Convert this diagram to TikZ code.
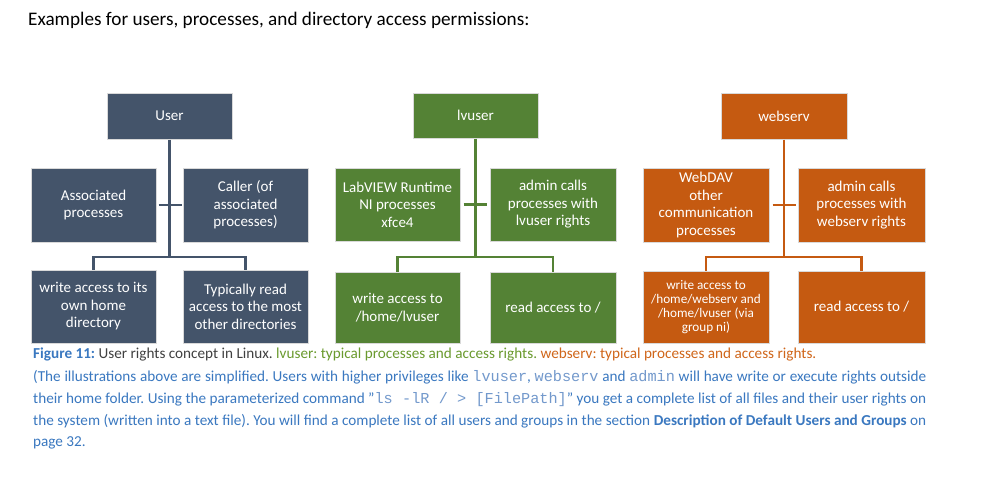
\documentclass[tikz,border=0pt]{standalone}
\usepackage{fontspec}
\setmainfont{Carlito}
\newfontfamily\monof{Liberation Mono}
\definecolor{ublue}{HTML}{44546A}
\definecolor{ugreen}{HTML}{548235}
\definecolor{uorange}{HTML}{C55A11}
\definecolor{cblue}{HTML}{3A78C0}
\definecolor{cmono}{HTML}{7399CC}
\definecolor{cgrey}{HTML}{404040}
\definecolor{cgreen}{HTML}{6A9A2E}
\definecolor{corange}{HTML}{D0661A}
\definecolor{bord}{HTML}{D9D9D9}
\tikzset{
  ubox/.style={rectangle, draw=bord, line width=1pt, text=white, align=center,
    inner sep=0pt, minimum width=125pt, font=\fontsize{15}{17.5}\selectfont},
  conn/.style={line width=2.4pt},
  captxt/.style={anchor=base west, inner sep=0pt, font=\fontsize{15.2}{18}\selectfont, text=cblue}
}
\begin{document}
\frenchspacing
\begin{tikzpicture}[x=1pt,y=-1pt]
\useasboundingbox[fill=white] (0,0) rectangle (998,503);
\node[anchor=base west, inner sep=0pt, font=\fontsize{19.2}{22}\selectfont] (title) at (28,26) {Examples for users, processes, and directory access permissions:};

% User
\node[ubox, fill=ublue, minimum height=46pt] (user) at (169.5,116) {User};
\node[ubox, fill=ublue, minimum height=74pt] (assoc) at (93.5,205) {Associated\\processes};
\node[ubox, fill=ublue, minimum height=74pt] (caller) at (245.5,205) {Caller (of\\associated\\processes)};
\node[ubox, fill=ublue, minimum height=73pt] (uwrite) at (93.5,306.5) {write access to its\\own home\\directory};
\node[ubox, fill=ublue, minimum height=73pt] (uread) at (245.5,306.5) {Typically read\\access to the most\\other directories};
\coordinate (uj) at (169.5,257);
\draw[conn, ublue] (user.south) -- (uj);
\draw[conn, ublue] (uwrite.north) |- (uj) -| (uread.north);
\draw[conn, ublue] ([xshift=2pt]assoc.east) -- ([xshift=-1pt]caller.west);

% lvuser
\node[ubox, fill=ugreen, minimum height=45pt] (lv) at (475.5,115.5) {lvuser};
\node[ubox, fill=ugreen, minimum height=73pt] (lvproc) at (397.5,204.5) {LabVIEW Runtime\\NI processes\\xfce4};
\node[ubox, fill=ugreen, minimum height=73pt, minimum width=126pt] (lvadmin) at (553,204.5) {admin calls\\processes with\\lvuser rights};
\node[ubox, fill=ugreen, minimum height=71pt] (lvwrite) at (397.5,307.5) {write access to\\/home/lvuser};
\node[ubox, fill=ugreen, minimum height=71pt, minimum width=126pt] (lvread) at (553,307.5) {read access to /};
\coordinate (lj) at (475.5,257);
\draw[conn, ugreen] (lv.south) -- (lj);
\draw[conn, ugreen] (lvwrite.north) |- (lj) -| (lvread.north);
\draw[conn, ugreen] ([xshift=3pt]lvproc.east) -- ([xshift=-3pt]lvadmin.west);

% webserv
\node[ubox, fill=uorange, minimum height=46pt, minimum width=126pt] (ws) at (784,116) {webserv};
\node[ubox, fill=uorange, minimum height=74pt, minimum width=126pt] (wsproc) at (706,205) {WebDAV\\other\\communication\\processes};
\node[ubox, fill=uorange, minimum height=74pt, minimum width=127pt] (wsadmin) at (861.5,205) {admin calls\\processes with\\webserv rights};
\node[ubox, fill=uorange, minimum height=72pt, minimum width=126pt, font=\fontsize{13.2}{14.2}\selectfont] (wswrite) at (706,307) {write access to\\/home/webserv and\\/home/lvuser (via\\group ni)};
\node[ubox, fill=uorange, minimum height=72pt, minimum width=127pt] (wsread) at (861.5,307) {read access to /};
\coordinate (wj) at (784,257);
\draw[conn, uorange] (ws.south) -- (wj);
\draw[conn, uorange] (wswrite.north) |- (wj) -| (wsread.north);
\draw[conn, uorange] ([xshift=3pt]wsproc.east) -- ([xshift=-2pt]wsadmin.west);

% caption
\node[captxt] (cap1) at (33,358) {\textbf{Figure 11:} \textcolor{cgrey}{User rights concept in Linux.} \textcolor{cgreen}{lvuser: typical processes and access rights.} \textcolor{corange}{webserv: typical processes and access rights.}};
\node[captxt] (cap2) at (33,381) {\makebox[893pt][s]{(The illustrations above are simplified. Users with higher privileges like {\monof\textcolor{cmono}{lvuser}}, {\monof\textcolor{cmono}{webserv}} and {\monof\textcolor{cmono}{admin}} will have write or execute rights outside}};
\node[captxt] (cap3) at (33,403) {\makebox[893pt][s]{their home folder. Using the parameterized command "{\monof\textcolor{cmono}{ls -lR / > [FilePath]}}" you get a complete list of all files and their user rights on}};
\node[captxt] (cap4) at (33,425) {\makebox[893pt][s]{the system (written into a text file). You will find a complete list of all users and groups in the section \textbf{Description of Default Users and Groups} on}};
\node[captxt] (cap5) at (33,446) {page 32.};
\end{tikzpicture}
\end{document}
